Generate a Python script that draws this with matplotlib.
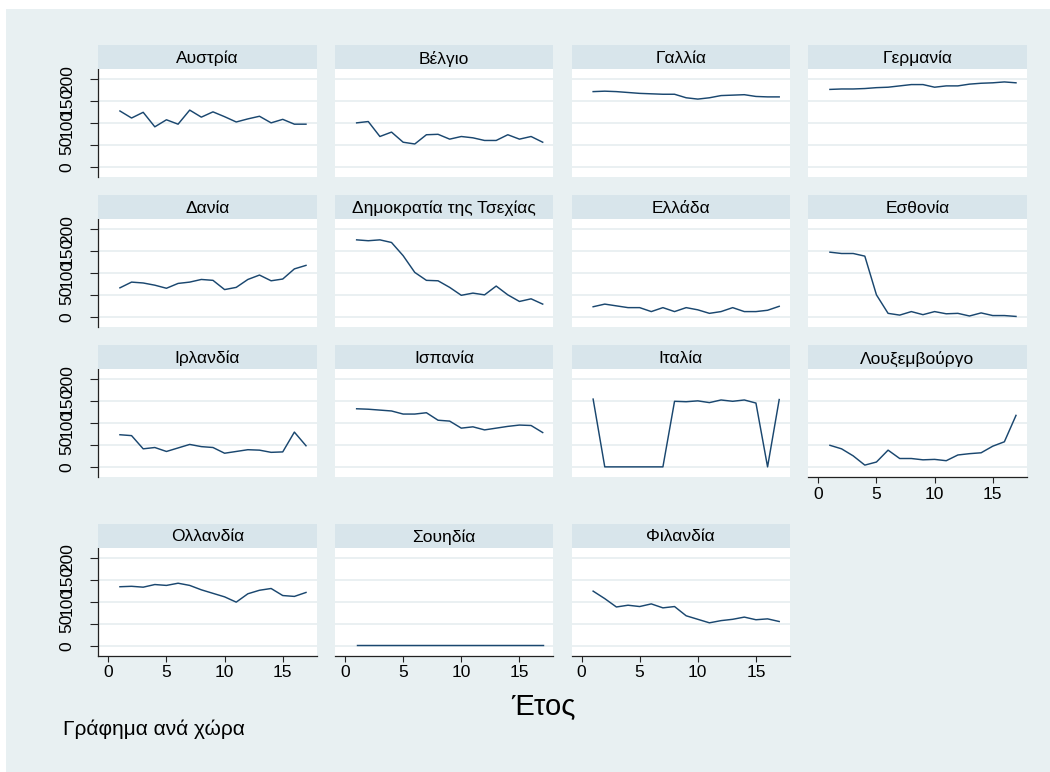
import matplotlib
matplotlib.use("Agg")
import matplotlib.pyplot as plt
from matplotlib.patches import Rectangle

plt.rcParams['font.family'] = ['Liberation Sans', 'DejaVu Sans']

# ---------------- data ----------------
years = list(range(1, 18))

countries = ["Αυστρία", "Βέλγιο", "Γαλλία", "Γερμανία",
             "Δανία", "Δημοκρατία της Τσεχίας", "Ελλάδα", "Εσθονία",
             "Ιρλανδία", "Ισπανία", "Ιταλία", "Λουξεμβούργο",
             "Ολλανδία", "Σουηδία", "Φιλανδία"]

austria = [128, 112, 125, 92, 108, 98, 130, 114, 126, 115, 103, 110, 116, 101, 109, 98, 98]
belgium = [101, 104, 70, 80, 57, 53, 74, 75, 64, 70, 67, 61, 61, 74, 64, 70, 57]
france = [172, 173, 172, 170, 168, 167, 166, 166, 158, 155, 158, 163, 164, 165, 161, 160, 160]
germany = [177, 178, 178, 179, 181, 182, 185, 188, 188, 182, 185, 185, 189, 191, 192, 194, 192]
denmark = [67, 80, 78, 73, 66, 77, 80, 86, 84, 63, 68, 86, 96, 83, 87, 110, 118]
czechia = [176, 174, 176, 170, 140, 102, 84, 83, 68, 50, 55, 51, 71, 51, 36, 42, 30]
greece = [24, 30, 26, 22, 22, 13, 22, 13, 22, 17, 9, 13, 22, 13, 13, 16, 25]
estonia = [148, 145, 145, 139, 51, 9, 5, 13, 6, 13, 8, 9, 3, 10, 4, 4, 2]
ireland = [74, 72, 42, 45, 36, 44, 52, 47, 45, 32, 36, 40, 39, 34, 35, 80, 49]
spain = [133, 132, 130, 128, 121, 121, 124, 107, 105, 89, 92, 85, 89, 93, 96, 95, 79]
italy = [155, 1, 1, 1, 1, 1, 1, 150, 149, 151, 147, 153, 150, 153, 146, 1, 154]
luxembourg = [50, 42, 26, 5, 12, 39, 20, 20, 17, 18, 15, 28, 31, 33, 48, 58, 118]
netherlands = [134, 135, 133, 139, 137, 142, 137, 127, 119, 111, 99, 118, 126, 130, 114, 112, 121]
sweden = [1, 1, 1, 1, 1, 1, 1, 1, 1, 1, 1, 1, 1, 1, 1, 1, 1]
finland = [124, 107, 88, 92, 89, 95, 86, 89, 68, 60, 52, 57, 60, 65, 59, 61, 55]

series = [austria, belgium, france, germany, denmark, czechia, greece, estonia,
          ireland, spain, italy, luxembourg, netherlands, sweden, finland]

y_ticks = [0, 50, 100, 150, 200]
x_ticks = [0, 5, 10, 15]
x_title = "Έτος"
note = "Γράφημα ανά χώρα"

# ---------------- style ----------------
BG = "#e8f0f2"
STRIP = "#d8e5eb"
GRID = "#e6eef0"
LINE = "#1a476f"

W, H = 1050, 772
fig = plt.figure(figsize=(W / 100, H / 100), dpi=100, facecolor="white")
fig.patches.append(Rectangle((6 / W, 0), 1 - 6 / W, 1 - 9 / H, transform=fig.transFigure,
                             facecolor=BG, edgecolor="none", zorder=-10))


def rect(left, top, w, h):
    return [left / W, 1 - (top + h) / H, w / W, h / H]


col_left = [98.3, 335.0, 571.5, 808.3]
row_top = [69.3, 219.3, 369.3, 547.7]
pw, ph, sh = 218.4, 108.0, 24.0
bottom_panels = {11, 12, 13, 14}
TICK_FS = 12.5
STRIP_FS = 12.5

for i, (name, vals) in enumerate(zip(countries, series)):
    r, c = divmod(i, 4)
    ax = fig.add_axes(rect(col_left[c], row_top[r], pw, ph))
    ax.set_facecolor("white")
    ax.plot(years, vals, color=LINE, lw=1.05, solid_joinstyle="round")
    ax.set_xlim(-0.86, 17.92)
    ax.set_ylim(-22.7, 222.7)
    ax.set_yticks(y_ticks)
    ax.set_xticks(x_ticks)
    ax.grid(axis="y", color=GRID, lw=1.2)
    ax.grid(axis="x", visible=False)
    ax.set_axisbelow(True)
    for s in ax.spines.values():
        s.set_visible(False)
    if c == 0:
        ax.spines["left"].set_visible(True)
        ax.spines["left"].set_color("#222222")
        ax.spines["left"].set_linewidth(0.9)
        ax.tick_params(axis="y", length=6, width=0.8, color="#222222",
                       labelsize=TICK_FS, labelrotation=90, pad=11)
        for lbl in ax.get_yticklabels():
            lbl.set_va("center")
    else:
        ax.tick_params(axis="y", left=False, labelleft=False)
    if i in bottom_panels:
        ax.spines["bottom"].set_visible(True)
        ax.spines["bottom"].set_color("#222222")
        ax.spines["bottom"].set_linewidth(0.9)
        ax.tick_params(axis="x", length=4, width=0.8, color="#222222",
                       labelsize=TICK_FS, pad=3)
    else:
        ax.tick_params(axis="x", bottom=False, labelbottom=False)

    sax = fig.add_axes(rect(col_left[c], row_top[r] - sh, pw, sh))
    sax.set_facecolor(STRIP)
    sax.set_xticks([])
    sax.set_yticks([])
    for s in sax.spines.values():
        s.set_visible(False)
    sax.text(0.5, 0.45, name, ha="center", va="center", fontsize=STRIP_FS,
             transform=sax.transAxes)

fig.text(543 / W, 1 - 715 / H, x_title, ha="center", va="baseline", fontsize=21)
fig.text(63 / W, 1 - 735 / H, note, ha="left", va="baseline", fontsize=15)

fig.savefig("out.png", dpi=100, facecolor=fig.get_facecolor())
